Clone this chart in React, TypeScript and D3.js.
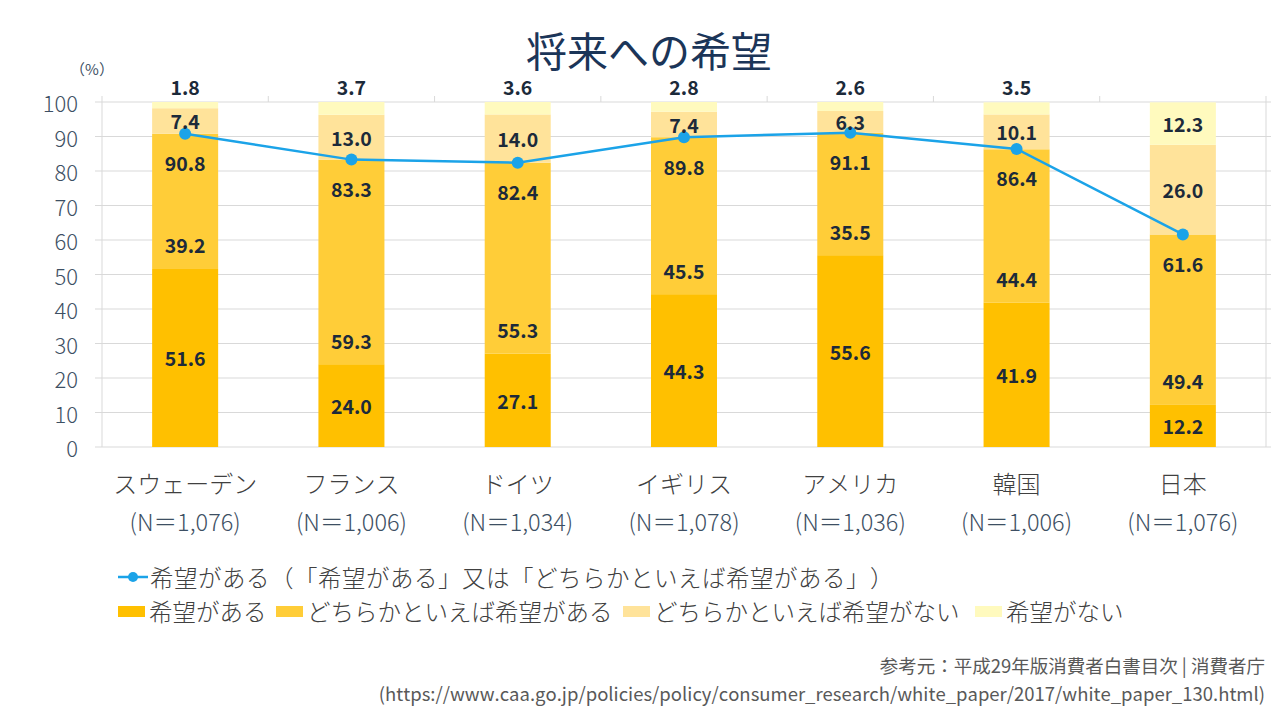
import React from "react";
import * as d3 from "d3";

const countries = ["スウェーデン", "フランス", "ドイツ", "イギリス", "アメリカ", "韓国", "日本"];
const sampleSizes = ["1,076", "1,006", "1,034", "1,078", "1,036", "1,006", "1,076"];
const hopeYes = [51.6, 24.0, 27.1, 44.3, 55.6, 41.9, 12.2];
const ratherYes = [39.2, 59.3, 55.3, 45.5, 35.5, 44.4, 49.4];
const ratherNo = [7.4, 13.0, 14.0, 7.4, 6.3, 10.1, 26.0];
const hopeNo = [1.8, 3.7, 3.6, 2.8, 2.6, 3.5, 12.3];
const hopeTotal = [90.8, 83.3, 82.4, 89.8, 91.1, 86.4, 61.6];
const yTicks = [0, 10, 20, 30, 40, 50, 60, 70, 80, 90, 100];

const seriesNames = ["希望がある", "どちらかといえば希望がある", "どちらかといえば希望がない", "希望がない"];
const seriesColors = ["#FFC000", "#FFCD38", "#FFE39A", "#FFFABE"];
const lineName = "希望がある（「希望がある」又は「どちらかといえば希望がある」）";
const lineColor = "#1BA3E8";

const FONT = "'Noto Sans CJK JP', 'Noto Sans', sans-serif";

export default function App() {
  const W = 1280, H = 720;
  const left = 102, right = 1266, top = 102, bottom = 447;
  const x = d3.scaleBand<number>().domain(d3.range(countries.length)).range([left, right]).paddingInner(0.603).paddingOuter(0.3015);
  const y = d3.scaleLinear().domain([0, 100]).range([bottom, top]);
  const bw = x.bandwidth();
  const cx = (i: number) => (x(i) as number) + bw / 2;

  const table = countries.map((c, i) => ({ i, vals: [hopeYes[i], ratherYes[i], ratherNo[i], hopeNo[i]] }));
  const stack = d3.stack<any, number>().keys([0, 1, 2, 3]).value((d, k) => d.vals[k]);
  const stacked = stack(table);

  const line = d3.line<number>().x((_, i) => cx(i)).y((v) => y(v));

  const labelStyle: React.CSSProperties = { fontFamily: FONT, fontWeight: 700, fontSize: 19.5, fill: "#1C2A3A" };
  const legendStyle: React.CSSProperties = { fontFamily: FONT, fontSize: 23.5, fontWeight: 300, fill: "#404040" };

  const step = x.step();
  const boundaries = d3.range(countries.length + 1).map((k) => left + k * step);

  return (
    <svg width={W} height={H} style={{ position: "absolute", left: 0, top: 0, background: "#fff" }}>
      <style>{`text { text-spacing-trim: space-all; font-kerning: none; }`}</style>
      <rect x={0} y={0} width={W} height={H} fill="#fff" />
      <text x={649} y={49} textAnchor="middle" dominantBaseline="central" style={{ fontFamily: FONT, fontSize: 41, fontWeight: 400, fill: "#1B3558" }}>将来への希望</text>
      <text x={92} y={68} textAnchor="middle" dominantBaseline="central" style={{ fontFamily: FONT, fontSize: 15, fill: "#3D4F63" }}>（%）</text>

      {yTicks.map((t) => (
        <g key={t}>
          <line x1={95} x2={right} y1={y(t)} y2={y(t)} stroke="#D9D9D9" strokeWidth={1} />
          <line x1={right} x2={right + 5} y1={y(t)} y2={y(t)} stroke="#D9D9D9" strokeWidth={1} />
          <text x={78} y={y(t)} textAnchor="end" dominantBaseline="central" style={{ fontFamily: FONT, fontSize: 22, fontWeight: 300, fill: "#3D4F63" }}>{t}</text>
        </g>
      ))}
      <line x1={left} x2={left} y1={top} y2={bottom} stroke="#D9D9D9" />
      <line x1={right} x2={right} y1={top} y2={bottom} stroke="#D9D9D9" />
      {boundaries.map((bx, k) => (
        <line key={k} x1={bx} x2={bx} y1={top - 6} y2={top} stroke="#D9D9D9" />
      ))}

      {stacked.map((s, k) => (
        <g key={k}>
          {s.map((d, i) => (
            <rect key={i} x={x(i)} y={y(d[1])} width={bw} height={y(d[0]) - y(d[1])} fill={seriesColors[k]} />
          ))}
        </g>
      ))}

      <path d={line(hopeTotal) || ""} fill="none" stroke={lineColor} strokeWidth={2.5} />
      {hopeTotal.map((v, i) => (
        <circle key={i} cx={cx(i)} cy={y(v)} r={6} fill={lineColor} />
      ))}

      {stacked.map((s, k) =>
        s.map((d, i) => {
          const v = table[i].vals[k];
          let ly: number;
          if (k === 0) ly = (y(d[0]) + y(d[1])) / 2;
          else if (k === 1) ly = y(d[0]) - 24;
          else if (k === 2) ly = (y(d[0]) + y(d[1])) / 2;
          else ly = v < 5 ? y(100) - 16 : (y(d[0]) + y(d[1])) / 2;
          return (
            <text key={`${k}-${i}`} x={cx(i)} y={ly} textAnchor="middle" dominantBaseline="central" style={labelStyle}>{v.toFixed(1)}</text>
          );
        })
      )}
      {hopeTotal.map((v, i) => (
        <text key={i} x={cx(i)} y={y(v) + 29} textAnchor="middle" dominantBaseline="central" style={labelStyle}>{v.toFixed(1)}</text>
      ))}

      {countries.map((c, i) => (
        <g key={c}>
          <text x={cx(i)} y={482} textAnchor="middle" dominantBaseline="central" style={{ fontFamily: FONT, fontSize: 24, fontWeight: 300, fill: "#404040" }}>{c}</text>
          <text x={cx(i)} y={521} textAnchor="middle" dominantBaseline="central" style={{ fontFamily: FONT, fontSize: 23.5, fontWeight: 300, fill: "#3D4F63" }}>{`(N＝${sampleSizes[i]})`}</text>
        </g>
      ))}

      <g>
        <line x1={118} x2={148} y1={577} y2={577} stroke={lineColor} strokeWidth={2.5} />
        <circle cx={133} cy={577} r={5} fill={lineColor} />
        <text x={150} y={577} dominantBaseline="central" style={{ ...legendStyle, letterSpacing: 0.5 }}>{lineName}</text>
      </g>
      {(() => {
        const xs = [118, 276, 623, 975];
        return seriesNames.map((n, k) => (
          <g key={n}>
            <rect x={xs[k]} y={606} width={27} height={11} fill={seriesColors[k]} />
            <text x={xs[k] + 31} y={611} dominantBaseline="central" style={legendStyle}>{n}</text>
          </g>
        ));
      })()}

      <text x={1265} y={665} textAnchor="end" dominantBaseline="central" style={{ fontFamily: FONT, fontSize: 18.5, fill: "#595959" }}>参考元：平成29年版消費者白書目次 | 消費者庁</text>
      <text x={1265} y={693} textAnchor="end" dominantBaseline="central" style={{ fontFamily: FONT, fontSize: 18.5, fill: "#595959" }}>(https://www.caa.go.jp/policies/policy/consumer_research/white_paper/2017/white_paper_130.html)</text>
    </svg>
  );
}
